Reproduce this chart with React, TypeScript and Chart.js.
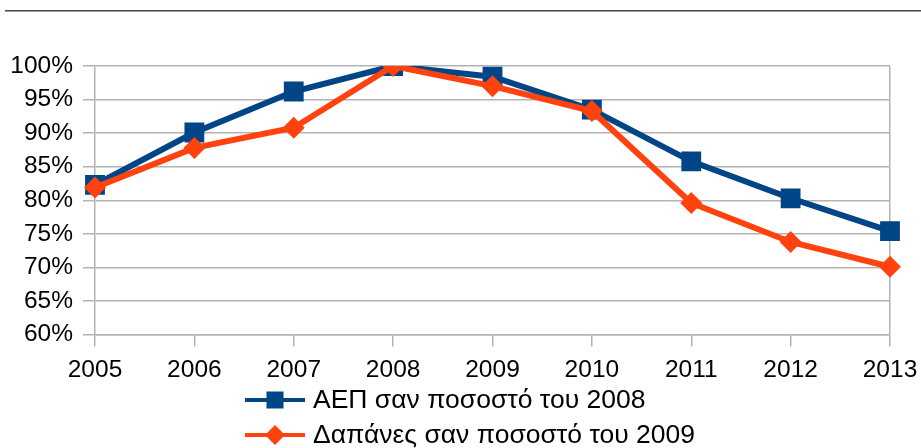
import React, { useEffect, useRef } from "react";
import { Chart, registerables } from "chart.js";

Chart.register(...registerables);

const years = ["2005", "2006", "2007", "2008", "2009", "2010", "2011", "2012", "2013"];
const gdpPct = [82.3, 90.1, 96.2, 100, 98.4, 93.5, 85.8, 80.3, 75.4];
const spendPct = [81.9, 87.8, 90.8, 100, 97.0, 93.3, 79.6, 73.8, 70.1];
const seriesNames = ["ΑΕΠ σαν ποσοστό του 2008", "Δαπάνες σαν ποσοστό του 2009"];

const BLUE = "#004586";
const ORANGE = "#ff420e";
const GRID = "#b3b3b3";
const FONT = "'Liberation Sans', Arial, sans-serif";
const TICK_FS = 24.5;
const LEGEND_FS = 26.5;

const decorPlugin = {
  id: "decor",
  beforeDraw(chart: any) {
    const ctx = chart.ctx;
    ctx.save();
    ctx.fillStyle = "#444444";
    ctx.fillRect(5, 10, chart.width - 5, 1.5);
    ctx.restore();
  },
  afterDraw(chart: any) {
    const ctx = chart.ctx;
    ctx.save();
    const x0 = 245;
    const rows = [400, 435];
    chart.data.datasets.forEach((ds: any, i: number) => {
      const y = rows[i];
      ctx.strokeStyle = ds.borderColor;
      ctx.lineWidth = 4;
      ctx.beginPath();
      ctx.moveTo(x0, y);
      ctx.lineTo(x0 + 60, y);
      ctx.stroke();
      ctx.fillStyle = ds.borderColor;
      const cx = x0 + 30;
      if (ds.pointStyle === "rect") {
        ctx.fillRect(cx - 8.5, y - 8.5, 17, 17);
      } else {
        ctx.beginPath();
        ctx.moveTo(cx, y - 10);
        ctx.lineTo(cx + 10, y);
        ctx.lineTo(cx, y + 10);
        ctx.lineTo(cx - 10, y);
        ctx.closePath();
        ctx.fill();
      }
      ctx.fillStyle = "#000000";
      ctx.font = `${LEGEND_FS}px ${FONT}`;
      ctx.textBaseline = "middle";
      ctx.textAlign = "left";
      ctx.fillText(ds.label, x0 + 68, y + 1);
    });
    ctx.restore();
  },
};

export default function App() {
  const ref = useRef<HTMLCanvasElement>(null);
  useEffect(() => {
    document.body.style.margin = "0";
    const canvas = ref.current!;
    const chart = new Chart(canvas, {
      type: "line",
      data: {
        labels: years,
        datasets: [
          {
            label: seriesNames[0],
            data: gdpPct,
            borderColor: BLUE,
            backgroundColor: BLUE,
            borderWidth: 6,
            pointStyle: "rect",
            pointRadius: 14,
            pointBorderWidth: 0,
            pointBackgroundColor: BLUE,
            tension: 0,
            order: 1,
          },
          {
            label: seriesNames[1],
            data: spendPct,
            borderColor: ORANGE,
            backgroundColor: ORANGE,
            borderWidth: 6,
            pointStyle: "rectRot",
            pointRadius: 11,
            pointBorderWidth: 0,
            pointBackgroundColor: ORANGE,
            tension: 0,
            order: 0,
          },
        ],
      },
      options: {
        responsive: false,
        animation: false,
        layout: { padding: { top: 66, bottom: 54, left: 0, right: 31 } },
        plugins: {
          legend: { display: false },
          tooltip: { enabled: false },
          title: { display: false },
        },
        scales: {
          x: {
            offset: false,
            afterFit: (s: any) => {
              s.paddingLeft = 0;
              s.paddingRight = 0;
            },
            grid: {
              drawOnChartArea: true,
              color: (c: any) => (c.index === years.length - 1 ? GRID : "rgba(0,0,0,0)"),
              tickColor: GRID,
              tickLength: 12,
              lineWidth: 1.5,
            },
            border: { color: GRID, width: 1.5 },
            ticks: {
              color: "#000",
              font: { family: FONT, size: TICK_FS },
              padding: 9,
              maxRotation: 0,
              autoSkip: false,
            },
          },
          y: {
            min: 60,
            max: 100,
            afterFit: (s: any) => {
              s.width = 95;
            },
            grid: { color: GRID, tickColor: GRID, tickLength: 12, lineWidth: 1.5 },
            border: { color: GRID, width: 1.5 },
            ticks: {
              stepSize: 5,
              autoSkip: false,
              color: "#000",
              font: { family: FONT, size: TICK_FS },
              padding: 10,
              callback: (v: any) => `${v}%`,
            },
          },
        },
      },
      plugins: [decorPlugin],
    });
    return () => chart.destroy();
  }, []);
  return (
    <div style={{ width: 921, height: 448 }}>
      <canvas ref={ref} width={921} height={448} style={{ display: "block" }} />
    </div>
  );
}
